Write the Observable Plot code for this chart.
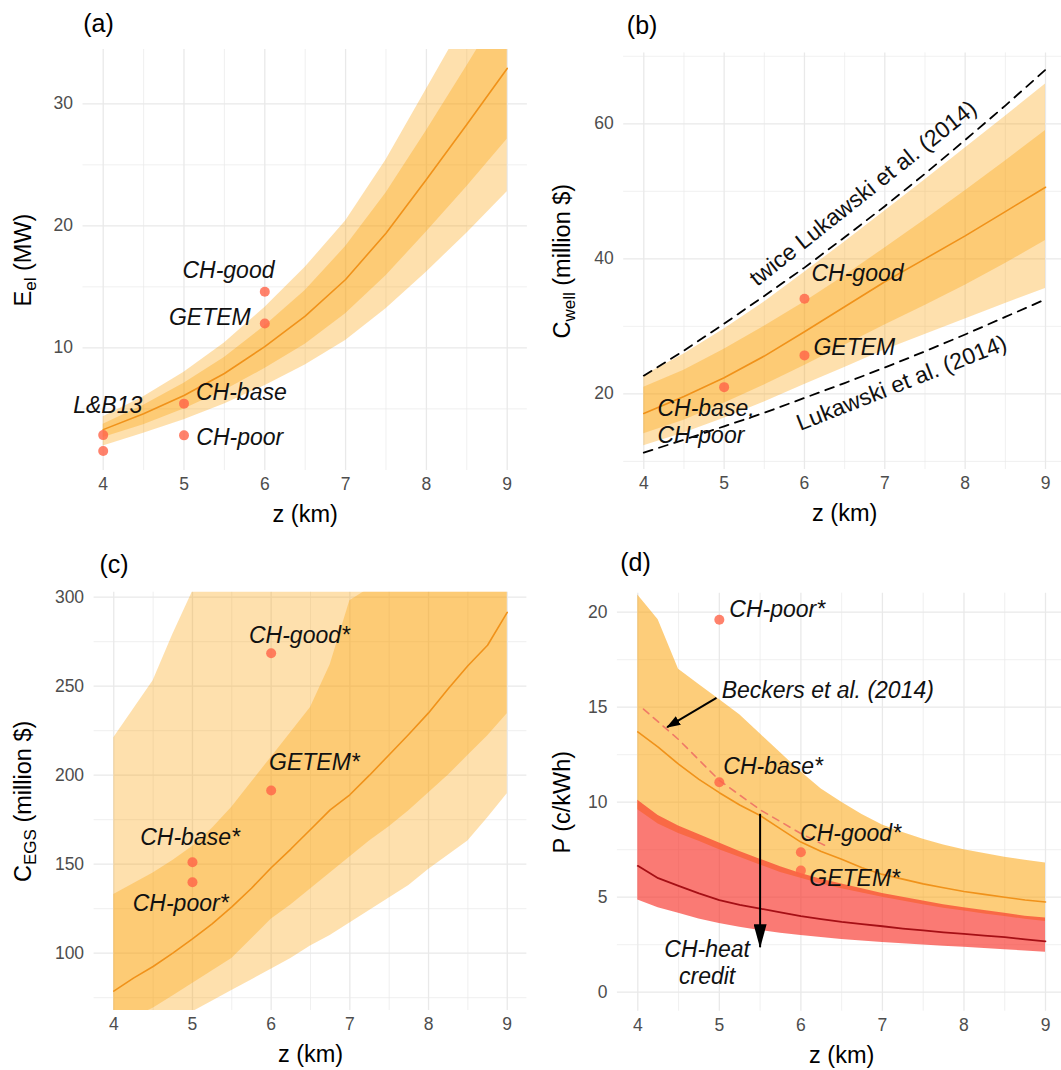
<!DOCTYPE html>
<html>
<head>
<meta charset="utf-8">
<script src="https://cdn.jsdelivr.net/npm/d3@7"></script>
<script src="https://cdn.jsdelivr.net/npm/@observablehq/plot@0.6"></script>
<style>
html, body { margin: 0; padding: 0; background: #fff; overflow: hidden; }
#fig { position: relative; width: 1061px; height: 1070px; overflow: hidden; background: #fff; }
.panel { position: absolute; }
</style>
</head>
<body>
<div id="fig"></div>
<script>
// ---------------- data ----------------
const xMajor = [4, 5, 6, 7, 8, 9];
const xMinor = [4.5, 5.5, 6.5, 7.5, 8.5];

// panel (a) : electric power E_el (MW)
const zA = [4, 4.5, 5, 5.5, 6, 6.5, 7, 7.5, 8, 8.5, 9];
const aMed     = [3.3, 4.6, 6.1, 7.9, 10.1, 12.6, 15.6, 19.4, 23.8, 28.3, 32.9];
const aOuterHi = [4.35, 6.0, 8.0, 10.4, 13.3, 16.6, 20.4, 25.4, 31.2, 37.0, 43.0];
const aInnerHi = [3.75, 5.3, 7.1, 9.2, 11.8, 14.7, 18.3, 22.7, 27.8, 33.1, 38.5];
const aInnerLo = [2.65, 3.7, 5.0, 6.5, 8.3, 10.3, 12.8, 15.9, 19.5, 23.2, 27.1];
const aOuterLo = [1.95, 3.0, 4.1, 5.4, 6.9, 8.6, 10.6, 13.2, 16.2, 19.4, 22.8];
const aPtZ = [4, 4, 5, 5, 6, 6];
const aPtV = [2.85, 1.55, 5.43, 2.83, 14.6, 12.0];
const aLab  = ["L&B13", "CH-base", "CH-poor", "CH-good", "GETEM"];
const aLabZ = [4.056, 5.71, 5.69, 5.55, 5.32];
const aLabV = [5.27, 6.36, 2.67, 16.34, 12.51];
const aYMajor = [10, 20, 30];
const aYMinor = [5, 15, 25];

// panel (b) : well cost C_well (million $)
const bMed     = [17.1, 19.6, 22.4, 25.6, 29.2, 32.9, 36.6, 40.0, 43.4, 47.0, 50.6];
const bOuterHi = [22.7, 25.9, 29.6, 33.6, 38.0, 42.5, 47.1, 51.7, 56.4, 61.1, 65.9];
const bInnerHi = [21.0, 23.5, 26.6, 30.0, 33.6, 37.5, 41.6, 45.8, 50.1, 54.5, 59.0];
const bInnerLo = [14.1, 16.1, 18.6, 21.3, 24.2, 27.2, 30.2, 33.1, 36.1, 39.3, 42.7];
const bOuterLo = [12.3, 14.2, 16.4, 18.8, 21.4, 23.9, 26.5, 28.8, 31.1, 33.4, 35.6];
const bLuk      = [11.3, 13.2, 15.2, 17.2, 19.4, 21.6, 23.9, 26.3, 28.8, 31.4, 34.0];
const bLukTwice = [22.7, 26.4, 30.4, 34.5, 38.7, 43.2, 47.8, 52.6, 57.6, 62.7, 68.0];
const bPtZ = [5, 6, 6];
const bPtV = [21.0, 34.1, 25.7];
const bLab  = ["CH-good", "GETEM"];
const bLabZ = [6.66, 6.62];
const bLabV = [37.8, 26.9];
const bLab2 = ["CH-base,\nCH-poor"];
const bLab2Z = [4.17];
const bLab2V = [16.03];
const bLukLab  = ["twice Lukawski et al. (2014)", "Lukawski et al. (2014)"];
const bLukLabZ = [6.73, 7.21];
const bLukLabV = [49.7, 21.6];
const bLukLabAngle = [-38.5, -21.5];
const bYMajor = [20, 40, 60];
const bYMinor = [10, 30, 50, 70];

// panel (c) : EGS cost C_EGS (million $)
const zC = [4, 4.25, 4.5, 4.75, 5, 5.25, 5.5, 5.75, 6, 6.25, 6.5, 6.75, 7, 7.25, 7.5, 7.75, 8, 8.25, 8.5, 8.75, 9];
const cMed     = [78.7, 86, 92.5, 100, 108, 116.5, 126, 136.5, 148, 158.5, 169.5, 180.5, 189, 200, 211.5, 223, 235, 248.5, 261.5, 273, 291.5];
const cOuterHi = [221, 237, 253, 279, 303, 305, 305, 305, 305, 305, 305, 305, 305, 305, 305, 305, 305, 305, 305, 305, 305];
const cInnerHi = [133, 139, 145, 152, 160, 170, 182, 196, 210, 224, 238, 262, 298, 305, 305, 305, 305, 305, 305, 305, 305];
const cInnerLo = [60, 64, 69, 76, 83, 90, 97, 108, 119, 127, 136, 145, 154, 163, 171, 180, 190, 200, 211, 222, 234.5];
const cOuterLo = [55, 57, 60, 63, 67, 73, 79, 85, 91, 97, 104, 110, 117, 124, 131, 138, 147, 155, 163, 176, 189.5];
const cPtZ = [6, 6, 5, 5];
const cPtV = [268.5, 191.4, 151.1, 139.9];
const cLab  = ["CH-good*", "GETEM*", "CH-base*", "CH-poor*"];
const cLabZ = [6.36, 6.55, 4.97, 4.85];
const cLabV = [278.5, 207.3, 165.2, 127.7];
const cYMajor = [100, 150, 200, 250, 300];
const cYMinor = [75, 125, 175, 225, 275];

// panel (d) : electricity price P (c/kWh)
const dOrHi  = [20.9, 19.6, 17.0, 16.2, 15.4, 14.6, 13.6, 12.6, 11.6, 10.7, 10.0, 9.35, 8.8, 8.4, 8.05, 7.75, 7.5, 7.3, 7.1, 6.95, 6.8];
const dOrMed = [13.7, 12.9, 12.0, 11.2, 10.5, 9.85, 9.3, 8.6, 7.9, 7.4, 7.0, 6.55, 6.2, 5.95, 5.7, 5.5, 5.3, 5.15, 5.0, 4.85, 4.75];
const dOrLo  = [9.6, 8.85, 8.35, 7.95, 7.5, 7.1, 6.7, 6.3, 6.0, 5.7, 5.45, 5.22, 5.0, 4.8, 4.6, 4.42, 4.27, 4.12, 3.98, 3.84, 3.72];
const dRedHi  = [10.1, 9.3, 8.75, 8.3, 7.85, 7.4, 7.0, 6.6, 6.25, 5.95, 5.7, 5.45, 5.2, 5.0, 4.8, 4.6, 4.45, 4.3, 4.15, 4.0, 3.9];
const dRedMed = [6.65, 6.0, 5.6, 5.2, 4.85, 4.6, 4.4, 4.2, 4.0, 3.85, 3.7, 3.58, 3.47, 3.35, 3.25, 3.15, 3.07, 2.98, 2.9, 2.78, 2.68];
const dRedLo  = [4.85, 4.45, 4.15, 3.85, 3.62, 3.42, 3.25, 3.1, 2.98, 2.88, 2.78, 2.7, 2.62, 2.55, 2.48, 2.42, 2.36, 2.3, 2.24, 2.17, 2.1];
const dBeckZ = [4.07, 4.5, 5, 5.5, 6, 6.33];
const dBeckV = [14.9, 13.3, 11.15, 9.6, 8.35, 7.65];
const dPtZ = [5, 5, 6, 6];
const dPtV = [19.6, 11.05, 7.37, 6.4];
const dLab  = ["CH-poor*", "Beckers et al. (2014)", "CH-base*", "CH-good*", "GETEM*", "CH-heat\ncredit"];
const dLabZ = [5.71, 6.33, 5.66, 6.61, 6.66, 4.85];
const dLabV = [20.18, 15.96, 11.93, 8.42, 6.05, 1.58];
const dArrowBeck = {z1: [4.965], v1: [15.49], z2: [4.36], v2: [13.95]};
const dArrowHeat = {z1: [5.5], v1: [9.39], z2: [5.5], v2: [2.37]};
const dYMajor = [0, 5, 10, 15, 20];
const dYMinor = [2.5, 7.5, 12.5, 17.5];

// ---------------- style ----------------
const FONT = "'Liberation Sans', Arial, Helvetica, sans-serif";
const GRID = "#e9e9e9";
const BAND = "#fca000";
const MEDLINE = "#f0921a";
const PT = "#ff6347";
const INK = "#111111";
const TICK_FS = 17.5;
const TITLE_FS = 23.5;

function panel(cfg, marks) {
  return Plot.plot({
    width: cfg.w, height: cfg.h,
    marginLeft: cfg.mL, marginRight: cfg.mR, marginTop: cfg.mT, marginBottom: cfg.mB,
    x: {domain: [3.75, 9.25]},
    y: {domain: cfg.yDom},
    style: {fontFamily: FONT, background: "white", overflow: "visible"},
    marks: [
      Plot.gridX({ticks: xMinor, stroke: GRID, strokeOpacity: 1, strokeWidth: 0.7}),
      Plot.gridY({ticks: cfg.yMinor, stroke: GRID, strokeOpacity: 1, strokeWidth: 0.7}),
      Plot.gridX({ticks: xMajor, stroke: GRID, strokeOpacity: 1, strokeWidth: 1.3}),
      Plot.gridY({ticks: cfg.yMajor, stroke: GRID, strokeOpacity: 1, strokeWidth: 1.3}),
      ...marks,
      Plot.axisX({ticks: xMajor, tickFormat: d => String(d), tickSize: 0, tickPadding: 7, fontSize: TICK_FS, color: "#4d4d4d", label: null}),
      Plot.axisY({ticks: cfg.yMajor, tickFormat: d => String(d), tickSize: 0, tickPadding: 10, fontSize: TICK_FS, color: "#4d4d4d", label: null}),
      Plot.text([cfg.tag], {frameAnchor: "top-left", dx: cfg.tagDx, dy: cfg.tagDy, textAnchor: "middle", lineAnchor: "middle", fontSize: 25, fill: "#000"}),
      Plot.text(["z (km)"], {frameAnchor: "bottom", dy: 44, textAnchor: "middle", lineAnchor: "middle", fontSize: TITLE_FS, fill: "#000"}),
      Plot.text([cfg.yt.main + cfg.yt.sub + cfg.yt.rest], {frameAnchor: "left", dx: cfg.yDx, rotate: -90, textAnchor: "middle", lineAnchor: "middle", fontSize: TITLE_FS, fill: "#000"})
    ]
  });
}

function fixSub(svg, yt) {
  if (!yt.sub) return;
  const full = yt.main + yt.sub + yt.rest;
  const ns = "http://www.w3.org/2000/svg";
  svg.querySelectorAll("text").forEach(t => {
    if (t.textContent === full) {
      t.textContent = "";
      const a = document.createElementNS(ns, "tspan"); a.textContent = yt.main; t.appendChild(a);
      const b = document.createElementNS(ns, "tspan"); b.textContent = yt.sub; b.setAttribute("font-size", "17"); b.setAttribute("dy", "5"); t.appendChild(b);
      const c = document.createElementNS(ns, "tspan"); c.textContent = yt.rest; c.setAttribute("dy", "-5"); t.appendChild(c);
    }
  });
}

function bands(z, oLo, oHi, iLo, iHi, med) {
  return [
    Plot.areaY(z, {x: z, y1: oLo, y2: oHi, fill: BAND, fillOpacity: 0.32, clip: true}),
    Plot.areaY(z, {x: z, y1: iLo, y2: iHi, fill: BAND, fillOpacity: 0.32, clip: true}),
    Plot.lineY(z, {x: z, y: med, stroke: MEDLINE, strokeWidth: 1.6, clip: true})
  ];
}
function labels(lab, z, v, extra = {}) {
  return Plot.text(lab, {x: z, y: v, text: lab, fontSize: 23, fontStyle: "italic", fill: INK, textAnchor: "middle", lineAnchor: "middle", ...extra});
}
function dots(z, v) {
  return Plot.dot(z, {x: z, y: v, r: 5, fill: PT, fillOpacity: 0.8, stroke: "none"});
}

const fig = document.getElementById("fig");
function place(svg, left, top, w) {
  const d = document.createElement("div");
  d.className = "panel";
  d.style.left = left + "px"; d.style.top = top + "px"; d.style.width = w + "px";
  d.appendChild(svg);
  fig.appendChild(d);
}

// ---- (a)
const cfgA = {w: 530, h: 530, mL: 82.5, mR: 3.1, mT: 49, mB: 60, yDom: [-0.05, 34.45], yMajor: aYMajor, yMinor: aYMinor,
  tag: "(a)", tagDx: 15.5, tagDy: -25.3, yDx: -59.5, yt: {main: "E", sub: "el", rest: " (MW)"}};
const svgA = panel(cfgA, [
  ...bands(zA, aOuterLo, aOuterHi, aInnerLo, aInnerHi, aMed),
  dots(aPtZ, aPtV),
  labels(aLab, aLabZ, aLabV)
]);
fixSub(svgA, cfgA.yt);
place(svgA, 0, 0, 530);

// ---- (b)
const cfgB = {w: 536, h: 530, mL: 93.2, mR: 0.9, mT: 52.4, mB: 61, yDom: [8.8, 70.5], yMajor: bYMajor, yMinor: bYMinor,
  tag: "(b)", tagDx: 18.4, tagDy: -27, yDx: -61.2, yt: {main: "C", sub: "well", rest: " (million $)"}};
const svgB = panel(cfgB, [
  ...bands(zA, bOuterLo, bOuterHi, bInnerLo, bInnerHi, bMed),
  Plot.lineY(zA, {x: zA, y: bLukTwice, stroke: "#000", strokeWidth: 1.8, strokeDasharray: "9,7"}),
  Plot.lineY(zA, {x: zA, y: bLuk, stroke: "#000", strokeWidth: 1.8, strokeDasharray: "9,7"}),
  dots(bPtZ, bPtV),
  labels(bLab, bLabZ, bLabV),
  labels(bLab2, bLab2Z, bLab2V, {textAnchor: "start", lineHeight: 1.16}),
  Plot.text(bLukLab, {x: bLukLabZ, y: bLukLabV, text: bLukLab, rotate: bLukLabAngle, fontSize: 23, fill: INK, textAnchor: "middle", lineAnchor: "middle"})
]);
fixSub(svgB, cfgB.yt);
place(svgB, 530, 0, 536);

// ---- (c)
const cfgC = {w: 530, h: 540, mL: 93.6, mR: 3.6, mT: 61.7, mB: 60, yDom: [67.8, 302.8], yMajor: cYMajor, yMinor: cYMinor,
  tag: "(c)", tagDx: 20, tagDy: -27.3, yDx: -70.6, yt: {main: "C", sub: "EGS", rest: " (million $)"}};
const svgC = panel(cfgC, [
  ...bands(zC, cOuterLo, cOuterHi, cInnerLo, cInnerHi, cMed),
  dots(cPtZ, cPtV),
  labels(cLab, cLabZ, cLabV)
]);
fixSub(svgC, cfgC.yt);
place(svgC, 0, 530, 530);

// ---- (d)
const cfgD = {w: 536, h: 540, mL: 86.9, mR: 0.6, mT: 62.7, mB: 59.3, yDom: [-1, 21], yMajor: dYMajor, yMinor: dYMinor,
  tag: "(d)", tagDx: 18.1, tagDy: -30, yDx: -54.9, yt: {main: "P (c/kWh)", sub: "", rest: ""}};
const svgD = panel(cfgD, [
  Plot.areaY(zC, {x: zC, y1: dOrLo, y2: dOrHi, fill: BAND, fillOpacity: 0.52, clip: true}),
  Plot.areaY(zC, {x: zC, y1: dRedLo, y2: dRedHi, fill: "#f7322a", fillOpacity: 0.65, clip: true}),
  Plot.lineY(zC, {x: zC, y: dOrMed, stroke: MEDLINE, strokeWidth: 1.6}),
  Plot.lineY(zC, {x: zC, y: dRedMed, stroke: "#a50f15", strokeWidth: 1.8}),
  Plot.lineY(dBeckZ, {x: dBeckZ, y: dBeckV, stroke: "#f07a66", strokeWidth: 1.6, strokeDasharray: "7,6"}),
  dots(dPtZ, dPtV),
  labels(dLab, dLabZ, dLabV, {lineHeight: 1.16}),
  Plot.link([0], {x1: dArrowBeck.z1, y1: dArrowBeck.v1, x2: dArrowBeck.z2, y2: dArrowBeck.v2, stroke: "#000", strokeWidth: 2, className: "arrow-small"}),
  Plot.link([0], {x1: dArrowHeat.z1, y1: dArrowHeat.v1, x2: dArrowHeat.z2, y2: dArrowHeat.v2, stroke: "#000", strokeWidth: 2, className: "arrow-big"})
]);
{
  const ns = "http://www.w3.org/2000/svg";
  const defs = document.createElementNS(ns, "defs");
  defs.innerHTML =
    '<marker id="headSmall" viewBox="0 0 14 10" refX="13" refY="5" markerWidth="14" markerHeight="10" markerUnits="userSpaceOnUse" orient="auto"><path d="M0,0L14,5L0,10Z" fill="#000"/></marker>' +
    '<marker id="headBig" viewBox="0 0 24 13" refX="23" refY="6.5" markerWidth="24" markerHeight="13" markerUnits="userSpaceOnUse" orient="auto"><path d="M0,0L24,6.5L0,13Z" fill="#000"/></marker>';
  svgD.insertBefore(defs, svgD.firstChild);
  svgD.querySelectorAll("g.arrow-small path").forEach(p => p.setAttribute("marker-end", "url(#headSmall)"));
  svgD.querySelectorAll("g.arrow-big path").forEach(p => p.setAttribute("marker-end", "url(#headBig)"));
}
place(svgD, 530, 530, 536);
</script>
</body>
</html>
